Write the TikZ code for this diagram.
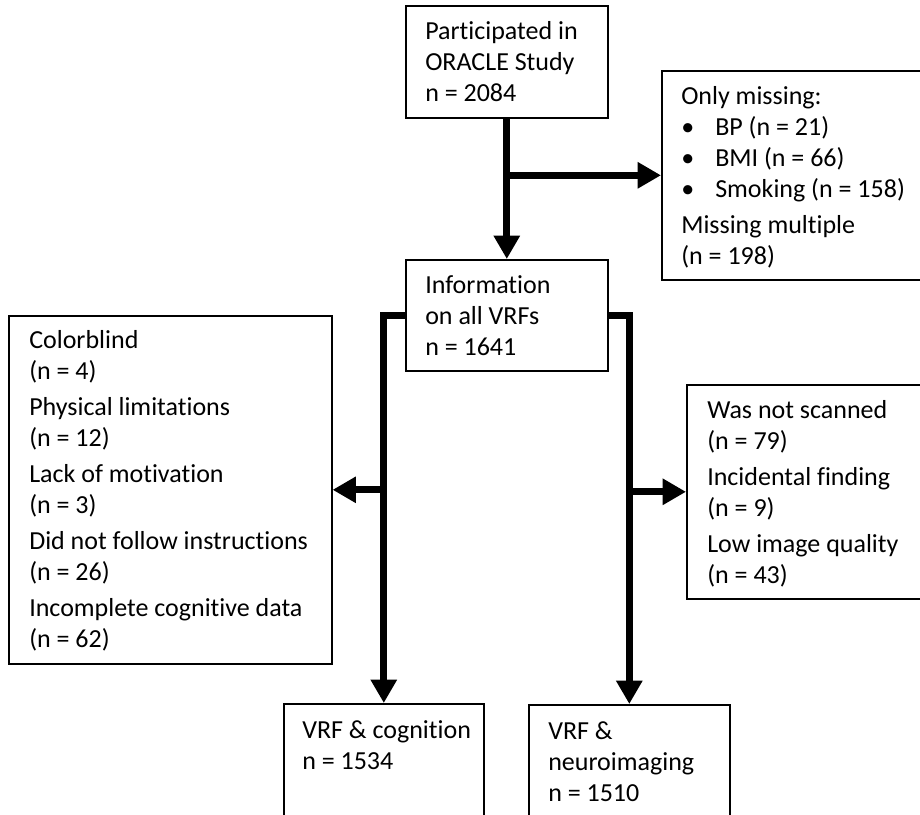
\documentclass[tikz,border=0pt]{standalone}
\usepackage{fontspec}
\setmainfont{Carlito}[Ligatures={NoCommon, NoContextual}]
\usetikzlibrary{arrows.meta}
\tikzset{box/.style  = {draw, line width=1.2pt, anchor=north west, inner sep=0pt},
         txt/.style  = {anchor=north west, align=left, inner sep=0pt,
                        font=\fontsize{19.5}{23.25}\selectfont,
                        execute at begin node=\strut},
         flow/.style = {line width=5.25pt, -{Triangle[width=18.75pt, length=17.5pt]}}}
\newcommand{\itm}[1]{\makebox[25.5pt][l]{\textbullet}#1}

\begin{document}
\begin{tikzpicture}[x=0.75pt, y=-0.75pt]
    \clip (0, 0) rectangle (920, 814);

    \node [box, minimum width=151.5pt, minimum height=84pt] (orcl) at (405, 5) {};
    \node [box, minimum width=202.5pt, minimum height=156.75pt] (miss) at (661, 70) {};
    \node [box, minimum width=151.5pt, minimum height=83.25pt] (info) at (405, 259) {};
    \node [box, minimum width=242.25pt, minimum height=261pt] (excog) at (8, 315) {};
    \node [box, minimum width=183pt, minimum height=160.5pt] (exmri) at (686, 384) {};
    \node [box, minimum width=150pt, minimum height=105pt] (cogn) at (283, 703) {};
    \node [box, minimum width=150.75pt, minimum height=105pt] (mri) at (528, 704) {};

    \node [txt] (orcltxt) at ([shift={(20, 16)}]orcl.north west)
        {Participated in\\ ORACLE Study\\ n = 2084};
    \node [txt] (misstxt) at ([shift={(20, 16)}]miss.north west)
        {Only missing:\\ \itm{BP (n = 21)}\\ \itm{BMI (n = 66)}\\ \itm{Smoking (n = 158)}\\[3.75pt]
         Missing multiple\\ (n = 198)};
    \node [txt] (infotxt) at ([shift={(20, 16)}]info.north west)
        {Information\\ on all VRFs\\ n = 1641};
    \node [txt] (excogtxt) at ([shift={(21, 15)}]excog.north west)
        {Colorblind\\ (n = 4)\\[3.75pt] Physical limitations\\ (n = 12)\\[3.75pt]
         Lack of motivation\\ (n = 3)\\[3.75pt] Did not follow instructions\\ (n = 26)\\[3.75pt]
         Incomplete cognitive data\\ (n = 62)};
    \node [txt] (exmritxt) at ([shift={(21, 16)}]exmri.north west)
        {Was not scanned\\ (n = 79)\\[3.75pt] Incidental finding\\ (n = 9)\\[3.75pt]
         Low image quality\\ (n = 43)};
    \node [txt] (cogntxt) at ([shift={(19, 17)}]cogn.north west)
        {VRF \& cognition\\ n = 1534};
    \node [txt] (mritxt) at ([shift={(20, 17)}]mri.north west)
        {VRF \&\\ neuroimaging\\ n = 1510};

    \draw [flow] (orcl.south) -- (info.north);
    \draw [flow] (orcl.south |- miss.west) -- (miss.west);

    \draw [flow] (info.west) -| (cogn.north);
    \draw [flow] (info.east) -| (mri.north);

    \draw [flow] (cogn.north |- excog.east) -- (excog.east);
    \draw [flow] (mri.north |- exmri.west) -- (exmri.west);
\end{tikzpicture}
\end{document}
